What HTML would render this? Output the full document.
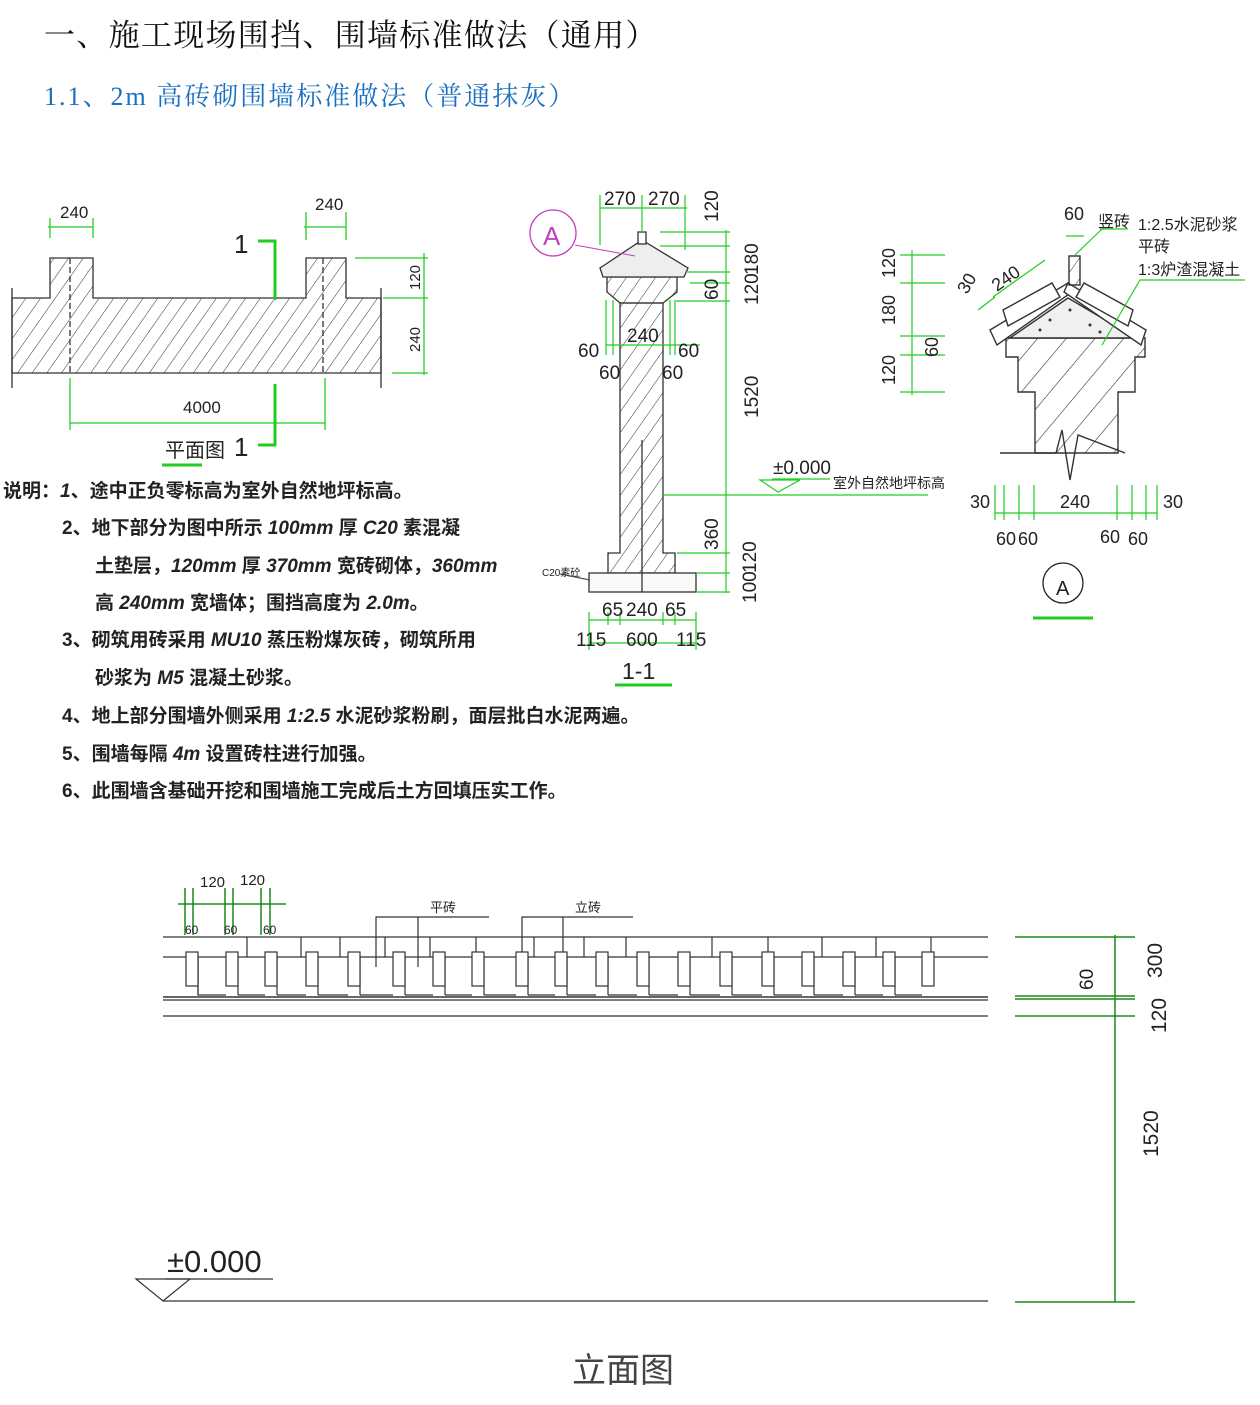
<!DOCTYPE html>
<html><head><meta charset="utf-8"><style>
body{margin:0;background:#fff;}
svg{display:block}
.t{font-family:"Liberation Sans","Noto Sans CJK SC",sans-serif;}
.n{font-family:"Liberation Sans","Noto Sans CJK SC",sans-serif;font-size:19px;fill:#222;font-weight:bold;}
</style></head><body>
<svg width="1260" height="1405" viewBox="0 0 1260 1405" xmlns="http://www.w3.org/2000/svg">
<defs>
<pattern id="h" width="12" height="12" patternUnits="userSpaceOnUse" patternTransform="rotate(35)">
<line x1="0" y1="0" x2="0" y2="12" stroke="#333" stroke-width="1"/></pattern>
<pattern id="h2" width="22" height="22" patternUnits="userSpaceOnUse" patternTransform="rotate(40)">
<line x1="0" y1="0" x2="0" y2="22" stroke="#333" stroke-width="1.2"/></pattern>
</defs>
<text x="44" y="46" font-size="31" letter-spacing="1.3" font-family="Liberation Serif,'Noto Serif CJK SC',serif" fill="#111">一、施工现场围挡、围墙标准做法（通用）</text>
<text x="44" y="105" font-size="26" letter-spacing="2" font-family="Liberation Serif,'Noto Serif CJK SC',serif" fill="#1a6fc0">1.1、2m 高砖砌围墙标准做法（普通抹灰）</text>

<!-- Plan view -->
<g stroke="#333" stroke-width="1.3">
<path d="M12,298 H50 V258 H93 V298 H306 V258 H346 V298 H381 V373 H12 Z" fill="url(#h)"/>
<line x1="12" y1="288" x2="12" y2="388"/><line x1="381" y1="288" x2="381" y2="388"/>
<line x1="70" y1="258" x2="70" y2="373" stroke-dasharray="6,3"/>
<line x1="323" y1="258" x2="323" y2="373" stroke-dasharray="6,3"/>
</g>
<g stroke="#22cc22" stroke-width="1.3" fill="none">
<line x1="48" y1="227" x2="93" y2="227"/><line x1="50" y1="218" x2="50" y2="238"/><line x1="93" y1="218" x2="93" y2="238"/>
<line x1="304" y1="227" x2="346" y2="227"/><line x1="306" y1="212" x2="306" y2="240"/><line x1="346" y1="212" x2="346" y2="240"/>
<line x1="424" y1="253" x2="424" y2="375"/><line x1="355" y1="258" x2="428" y2="258"/><line x1="383" y1="298" x2="428" y2="298"/><line x1="392" y1="373" x2="428" y2="373"/>
<line x1="70" y1="423" x2="325" y2="423"/><line x1="70" y1="378" x2="70" y2="430"/><line x1="325" y1="378" x2="325" y2="430"/>
<path d="M258,241 H275 V300" stroke-width="3"/><path d="M275,384 V445 H258" stroke-width="3"/>
<line x1="162" y1="465" x2="202" y2="465" stroke-width="3"/>
</g>
<g class="t" fill="#222" font-size="17">
<text x="60" y="218">240</text><text x="315" y="210">240</text><text x="183" y="413">4000</text>
<text x="420" y="290" transform="rotate(-90 420 290)" font-size="15">120</text>
<text x="420" y="352" transform="rotate(-90 420 352)" font-size="15">240</text>
<text x="234" y="253" font-size="26">1</text><text x="234" y="456" font-size="26">1</text>
<text x="165" y="457" font-size="20">平面图</text>
</g>

<!-- Section 1-1 -->
<g stroke="#333" stroke-width="1.3">
<path d="M620,303 H663 V553 H675 V573 H608 V553 H620 Z" fill="url(#h)"/>
<path d="M607,277 H677 V292 L663,303 H620 L607,292 Z" fill="url(#h)"/>
<path d="M600,268 L642,240 L688,268 L684,277 H603 Z" fill="#eee"/>
<rect x="638" y="232" width="8" height="12" fill="#fff"/>
<rect x="589" y="573" width="107" height="19" fill="#fafafa"/>
<line x1="642" y1="440" x2="642" y2="592"/>
</g>
<circle cx="553" cy="233" r="23" fill="none" stroke="#c040c0" stroke-width="1.3"/>
<text x="543" y="245" class="t" font-size="26" fill="#c040c0">A</text>
<line x1="575" y1="245" x2="635" y2="256" stroke="#c040c0"/>
<g stroke="#22cc22" stroke-width="1.2" fill="none">
<line x1="600" y1="208" x2="687" y2="208"/><line x1="600" y1="195" x2="600" y2="245"/><line x1="642" y1="195" x2="642" y2="232"/><line x1="685" y1="195" x2="685" y2="250"/>
<line x1="726" y1="230" x2="726" y2="593"/>
<line x1="660" y1="232" x2="730" y2="232"/><line x1="660" y1="246" x2="730" y2="246"/><line x1="685" y1="272" x2="730" y2="272"/><line x1="690" y1="283" x2="730" y2="283"/><line x1="676" y1="301" x2="730" y2="301"/>
<line x1="663" y1="495" x2="928" y2="495"/><path d="M760,480 L800,480 L778,492 Z"/><line x1="772" y1="479" x2="830" y2="479"/>
<line x1="677" y1="553" x2="730" y2="553"/><line x1="696" y1="573" x2="730" y2="573"/><line x1="696" y1="592" x2="730" y2="592"/>
<line x1="606" y1="345" x2="700" y2="345"/><line x1="606" y1="300" x2="606" y2="355"/><line x1="613" y1="300" x2="613" y2="355"/><line x1="675" y1="300" x2="675" y2="355"/><line x1="670" y1="300" x2="670" y2="355"/>
<line x1="589" y1="620" x2="696" y2="620"/><line x1="589" y1="643" x2="696" y2="643"/><line x1="589" y1="612" x2="589" y2="650"/><line x1="696" y1="612" x2="696" y2="650"/><line x1="608" y1="612" x2="608" y2="625"/><line x1="620" y1="612" x2="620" y2="625"/><line x1="663" y1="612" x2="663" y2="625"/><line x1="675" y1="612" x2="675" y2="625"/>
<line x1="615" y1="685" x2="672" y2="685" stroke-width="3"/>
<line x1="560" y1="574" x2="590" y2="580" stroke="#555"/>
</g>
<g class="t" fill="#222" font-size="19">
<text x="604" y="205">270</text><text x="648" y="205">270</text>
<text x="718" y="222" transform="rotate(-90 718 222)">120</text>
<text x="758" y="275" transform="rotate(-90 758 275)">180</text>
<text x="758" y="305" transform="rotate(-90 758 305)">120</text>
<text x="718" y="300" transform="rotate(-90 718 300)">60</text>
<text x="758" y="418" transform="rotate(-90 758 418)">1520</text>
<text x="718" y="550" transform="rotate(-90 718 550)">360</text>
<text x="756" y="573" transform="rotate(-90 756 573)">120</text>
<text x="756" y="603" transform="rotate(-90 756 603)">100</text>
<text x="627" y="342">240</text><text x="578" y="357">60</text><text x="678" y="357">60</text>
<text x="599" y="379">60</text><text x="662" y="379">60</text>
<text x="773" y="474">±0.000</text><text x="833" y="488" font-size="14">室外自然地坪标高</text>
<text x="602" y="616">65</text><text x="626" y="616">240</text><text x="665" y="616">65</text>
<text x="576" y="646">115</text><text x="626" y="646">600</text><text x="676" y="646">115</text>
<text x="542" y="576" font-size="10">C20素砼</text>
<text x="622" y="679" font-size="23">1-1</text>
</g>

<!-- Detail A -->
<g stroke="#333" stroke-width="1.4">
<path d="M1006,338 H1145 V357 H1135 V392 H1118 V453 H1035 V392 H1018 V357 H1006 Z" fill="url(#h2)"/>
<path d="M1000,453 H1056 L1062,430 L1070,480 L1078,435 L1125,453" fill="none"/>
<path d="M1010,338 L1068,298 L1136,338 Z" fill="#f0f0f0"/>
<path d="M990,330 L1068,283 L1072,292 L997,345 Z" fill="#fff"/>
<path d="M1146,330 L1068,283 L1064,292 L1141,345 Z" fill="#fff"/>
<path d="M1003,310 L1052,283 L1060,297 L1008,326 Z" fill="#fff"/>
<path d="M1133,310 L1084,283 L1076,297 L1128,326 Z" fill="#fff"/>
<rect x="1069" y="256" width="11" height="29" fill="url(#h)"/>
</g>
<g fill="#333"><circle cx="1050" cy="320" r="1.5"/><circle cx="1070" cy="310" r="1.5"/><circle cx="1090" cy="325" r="1.5"/><circle cx="1040" cy="330" r="1.5"/><circle cx="1100" cy="332" r="1.5"/></g>
<g stroke="#22cc22" stroke-width="1.2" fill="none">
<line x1="912" y1="250" x2="912" y2="395"/>
<line x1="900" y1="255" x2="945" y2="255"/><line x1="900" y1="283" x2="945" y2="283"/><line x1="900" y1="336" x2="945" y2="336"/><line x1="900" y1="355" x2="945" y2="355"/><line x1="900" y1="392" x2="945" y2="392"/>
<line x1="1066" y1="236" x2="1084" y2="236"/>
<line x1="1075" y1="255" x2="1102" y2="229"/><line x1="1100" y1="229" x2="1128" y2="229"/>
<line x1="1102" y1="345" x2="1140" y2="280"/><line x1="1140" y1="280" x2="1245" y2="280"/>
<line x1="993" y1="297" x2="1045" y2="260"/><line x1="978" y1="310" x2="995" y2="297"/>
<line x1="995" y1="513" x2="1157" y2="513"/>
<line x1="995" y1="485" x2="995" y2="520"/><line x1="1004" y1="485" x2="1004" y2="520"/><line x1="1019" y1="485" x2="1019" y2="520"/><line x1="1034" y1="485" x2="1034" y2="520"/><line x1="1117" y1="485" x2="1117" y2="520"/><line x1="1132" y1="485" x2="1132" y2="520"/><line x1="1146" y1="485" x2="1146" y2="520"/><line x1="1157" y1="485" x2="1157" y2="520"/>
<line x1="1033" y1="618" x2="1093" y2="618" stroke-width="3"/>
</g>
<circle cx="1063" cy="583" r="20" fill="none" stroke="#222" stroke-width="1.3"/>
<g class="t" fill="#222" font-size="18">
<text x="1056" y="595" font-size="20">A</text>
<text x="1064" y="220">60</text>
<text x="1098" y="227" font-size="16">竖砖</text>
<text x="1138" y="230" font-size="16">1:2.5水泥砂浆</text>
<text x="1138" y="252" font-size="16">平砖</text>
<text x="1138" y="275" font-size="16">1:3炉渣混凝土</text>
<text x="895" y="278" transform="rotate(-90 895 278)">120</text>
<text x="895" y="325" transform="rotate(-90 895 325)">180</text>
<text x="938" y="357" transform="rotate(-90 938 357)">60</text>
<text x="895" y="385" transform="rotate(-90 895 385)">120</text>
<text x="997" y="292" transform="rotate(-35 997 292)">240</text>
<text x="967" y="295" transform="rotate(-60 967 295)">30</text>
<text x="970" y="508">30</text><text x="1060" y="508">240</text><text x="1163" y="508">30</text>
<text x="996" y="545">60</text><text x="1018" y="545">60</text><text x="1100" y="543">60</text><text x="1128" y="545">60</text>
</g>

<!-- Notes -->
<g class="n">
<text x="3" y="497">说明：<tspan font-style="italic">1</tspan>、途中正负零标高为室外自然地坪标高。</text>
<text x="62" y="534">2、地下部分为图中所示 <tspan font-style="italic">100mm</tspan> 厚 <tspan font-style="italic">C20</tspan> 素混凝</text>
<text x="95" y="572">土垫层，<tspan font-style="italic">120mm</tspan> 厚 <tspan font-style="italic">370mm</tspan> 宽砖砌体，<tspan font-style="italic">360mm</tspan></text>
<text x="95" y="609">高 <tspan font-style="italic">240mm</tspan> 宽墙体；围挡高度为 <tspan font-style="italic">2.0m</tspan>。</text>
<text x="62" y="646">3、砌筑用砖采用 <tspan font-style="italic">MU10</tspan> 蒸压粉煤灰砖，砌筑所用</text>
<text x="95" y="684">砂浆为 <tspan font-style="italic">M5</tspan> 混凝土砂浆。</text>
<text x="62" y="722">4、地上部分围墙外侧采用 <tspan font-style="italic">1:2.5</tspan> 水泥砂浆粉刷，面层批白水泥两遍。</text>
<text x="62" y="760">5、围墙每隔 <tspan font-style="italic">4m</tspan> 设置砖柱进行加强。</text>
<text x="62" y="797">6、此围墙含基础开挖和围墙施工完成后土方回填压实工作。</text>
</g>

<!-- Elevation -->
<g stroke="#333" stroke-width="1.2" fill="none">
<line x1="163" y1="937" x2="988" y2="937"/>
<line x1="163" y1="957" x2="988" y2="957"/>
<line x1="163" y1="997" x2="988" y2="997" stroke-width="1.6"/>
<line x1="163" y1="1000" x2="988" y2="1000"/>
<line x1="163" y1="1016" x2="988" y2="1016"/>
<path d="M198,957 V995 H226 M238,995 H265 M277,995 H306 M318,995 H348 M360,995 H393 M405,995 H433 M445,995 H472 M484,995 H516 M528,995 H555 M567,995 H596 M608,995 H637 M649,995 H678 M690,995 H720 M732,995 H762 M774,995 H802 M814,995 H843 M855,995 H883 M895,995 H922"/>
<path d="M198,957V995 M238,957V995 M277,957V995 M318,957V995 M360,957V995 M405,957V995 M445,957V995 M484,957V995 M528,957V995 M567,957V995 M608,957V995 M649,957V995 M690,957V995 M732,957V995 M774,957V995 M814,957V995 M855,957V995 M895,957V995"/>
<path d="M247,937V957 M301,937V957 M340,937V957 M385,937V957 M430,937V957 M476,937V957 M534,937V957 M584,937V957 M626,937V957 M712,937V957 M768,937V957 M822,937V957 M876,937V957 M931,937V957"/>
<path d="M376,967V917 H489 M418,967V917 M522,967V917 H633 M563,967V917"/>
<line x1="163" y1="1301" x2="988" y2="1301"/>
<path d="M136,1279 H190 L163,1301 Z"/><line x1="165" y1="1279" x2="273" y2="1279"/>
</g>
<g fill="#fff" stroke="#333" stroke-width="1.2">
<rect x="186" y="952" width="12" height="34"/><rect x="226" y="952" width="12" height="34"/><rect x="265" y="952" width="12" height="34"/><rect x="306" y="952" width="12" height="34"/><rect x="348" y="952" width="12" height="34"/><rect x="393" y="952" width="12" height="34"/><rect x="433" y="952" width="12" height="34"/><rect x="472" y="952" width="12" height="34"/><rect x="516" y="952" width="12" height="34"/><rect x="555" y="952" width="12" height="34"/><rect x="596" y="952" width="12" height="34"/><rect x="637" y="952" width="12" height="34"/><rect x="678" y="952" width="12" height="34"/><rect x="720" y="952" width="12" height="34"/><rect x="762" y="952" width="12" height="34"/><rect x="802" y="952" width="12" height="34"/><rect x="843" y="952" width="12" height="34"/><rect x="883" y="952" width="12" height="34"/><rect x="922" y="952" width="12" height="34"/>
</g>
<g stroke="#1a8a1a" stroke-width="1.5" fill="none">
<line x1="178" y1="904" x2="286" y2="904"/>
<path d="M185,888V935 M193,888V935 M225,888V935 M233,888V935 M261,888V935 M270,888V935"/>
<line x1="1115" y1="935" x2="1115" y2="1302"/>
<line x1="1015" y1="937" x2="1135" y2="937"/><line x1="1015" y1="996" x2="1135" y2="996"/><line x1="1015" y1="999" x2="1135" y2="999"/><line x1="1015" y1="1016" x2="1135" y2="1016"/><line x1="1015" y1="1302" x2="1135" y2="1302"/>
</g>
<g class="t" fill="#222">
<text x="200" y="887" font-size="15">120</text><text x="240" y="885" font-size="15">120</text>
<text x="185" y="934" font-size="12">60</text><text x="224" y="934" font-size="12">60</text><text x="263" y="934" font-size="12">60</text>
<text x="430" y="912" font-size="13">平砖</text><text x="575" y="912" font-size="13">立砖</text>
<text x="1162" y="978" transform="rotate(-90 1162 978)" font-size="21">300</text>
<text x="1093" y="990" transform="rotate(-90 1093 990)" font-size="19">60</text>
<text x="1166" y="1033" transform="rotate(-90 1166 1033)" font-size="21">120</text>
<text x="1158" y="1157" transform="rotate(-90 1158 1157)" font-size="21">1520</text>
<text x="167" y="1272" font-size="31">±0.000</text>
<text x="572" y="1382" font-size="34" font-family="'Noto Sans CJK SC',sans-serif" fill="#444">立面图</text>
</g>
</svg>
</body></html>
